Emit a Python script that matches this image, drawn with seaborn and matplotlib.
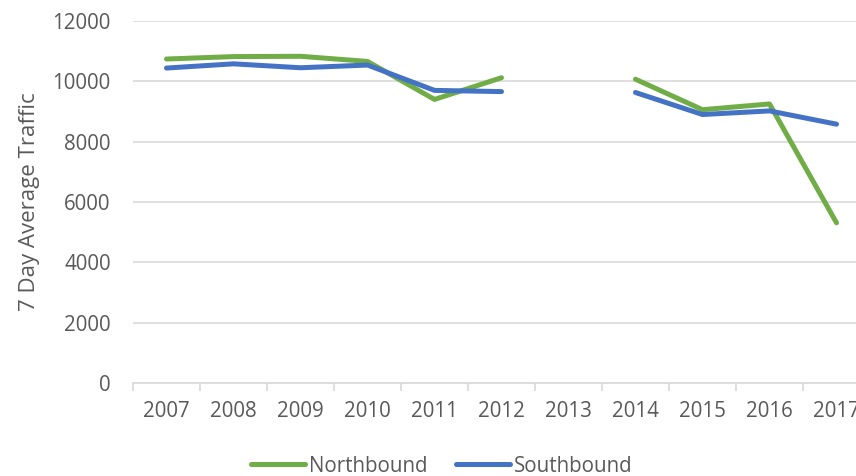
import numpy as np
import pandas as pd
import matplotlib
matplotlib.use("Agg")
import matplotlib.pyplot as plt
import seaborn as sns
from matplotlib.lines import Line2D
from matplotlib.ticker import FixedLocator, NullFormatter, FixedFormatter

years = ["2007", "2008", "2009", "2010", "2011", "2012", "2013", "2014", "2015", "2016", "2017"]
northbound = [10740, 10820, 10830, 10660, 9400, 10120, np.nan, 10070, 9060, 9250, 5310]
southbound = [10440, 10580, 10450, 10540, 9700, 9660, np.nan, 9630, 8900, 9020, 8580]
series_names = ["Northbound", "Southbound"]
colors = {"Northbound": "#70AD47", "Southbound": "#4472C4"}
yticks = [0, 2000, 4000, 6000, 8000, 10000, 12000]

rows = []
for name, vals in zip(series_names, [northbound, southbound]):
    seg = 0
    for i, v in enumerate(vals):
        if np.isnan(v):
            seg += 1
            continue
        rows.append({"pos": i, "value": v, "Direction": name, "seg": seg})
df = pd.DataFrame(rows)

sns.set_theme(style="white")
plt.rcParams["font.family"] = ["Open Sans", "DejaVu Sans"]
txt = "#595959"

fig = plt.figure(figsize=(8.56, 4.76), dpi=100)
ax = fig.add_axes([133 / 856, 1 - 383 / 476, (870 - 133) / 856, 362 / 476])

sns.lineplot(data=df, x="pos", y="value", hue="Direction", units="seg",
             estimator=None, palette=colors, linewidth=3.6, ax=ax, legend=False,
             sort=True)

ax.set_xlim(-0.5, len(years) - 0.5)
ax.set_ylim(0, 12000)
ax.set_yticks(yticks)
ax.set_yticklabels([str(t) for t in yticks])
ax.yaxis.grid(True, color="#D9D9D9", linewidth=1.2)
ax.set_axisbelow(True)
for s in ["top", "right", "left"]:
    ax.spines[s].set_visible(False)
ax.spines["bottom"].set_color("#D9D9D9")
ax.spines["bottom"].set_linewidth(1.2)

ax.xaxis.set_major_locator(FixedLocator(np.arange(-0.5, len(years), 1.0)))
ax.xaxis.set_major_formatter(NullFormatter())
ax.xaxis.set_minor_locator(FixedLocator(np.arange(len(years))))
ax.xaxis.set_minor_formatter(FixedFormatter(years))
ax.tick_params(axis="x", which="major", length=6, width=1.2, color="#D9D9D9", direction="out", bottom=True)
ax.tick_params(axis="x", which="minor", length=0, pad=13, labelsize=14.8, labelcolor=txt, bottom=True)
ax.tick_params(axis="y", length=0, pad=16, labelsize=14.8, labelcolor=txt)

ax.set_xlabel("")
ax.set_ylabel("7 Day Average Traffic", fontsize=16, color=txt, labelpad=9)

handles = [Line2D([0], [0], color=colors[n], linewidth=3.6, solid_capstyle="round") for n in series_names]
fig.legend(handles, series_names, loc="center", bbox_to_anchor=(442 / 856, 1 - 466 / 476),
           ncol=2, frameon=False, fontsize=14.8, labelcolor=txt, handlelength=2.6,
           handletextpad=0.2, columnspacing=1.4)

fig.savefig("out.png", dpi=100)
